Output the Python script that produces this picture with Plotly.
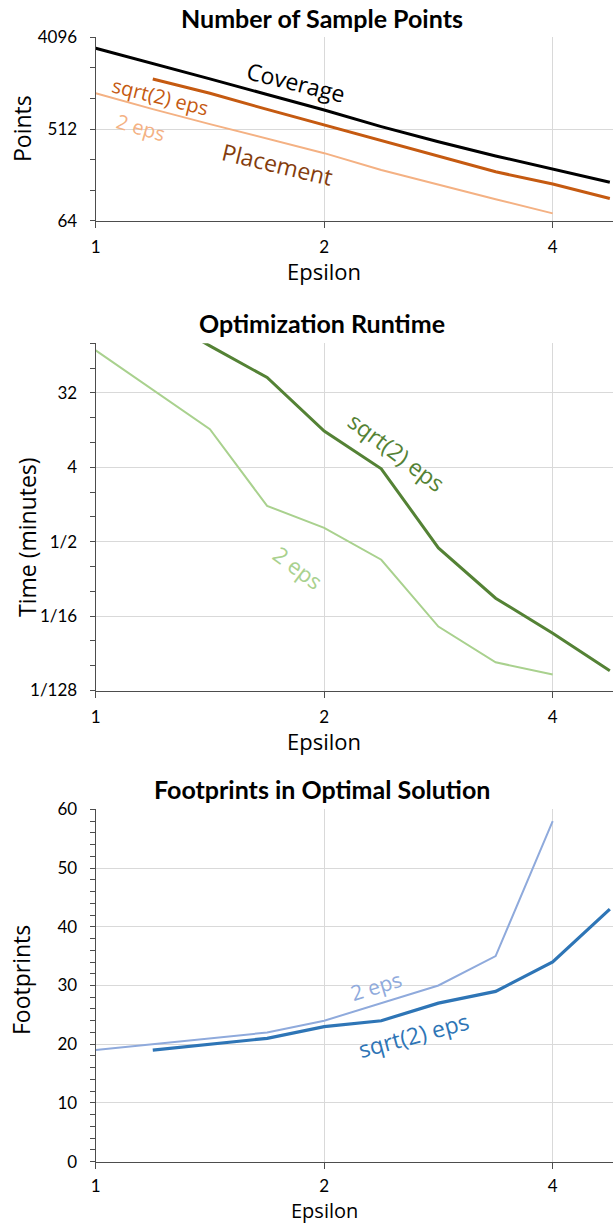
import math
import plotly.graph_objects as go

# ---------------- data ----------------
eps_all = [1, 1.189, 1.414, 1.682, 2, 2.378, 2.828, 3.364, 4, 4.757]

# Panel 1: number of sample points
coverage = [3191, 2272, 1596, 1120, 787, 541, 383, 278, 205, 153]
place_sqrt2_eps = eps_all[1:10]
place_sqrt2 = [1590, 1152, 798, 560, 399, 278, 194, 147, 106]
place_2_eps = eps_all[0:9]
place_2 = [1152, 803, 572, 410, 296, 202, 144, 104, 75.6]

# Panel 2: optimization runtime (minutes)
rt_sqrt2_eps = eps_all[1:10]
rt_sqrt2 = [300, 119, 49.2, 11.0, 3.84, 0.42, 0.103, 0.0387, 0.0136]
rt_2_eps = eps_all[0:9]
rt_2 = [105, 35, 11.6, 1.36, 0.737, 0.302, 0.0467, 0.0172, 0.0122]

# Panel 3: footprints in optimal solution
fp_2_eps = eps_all[0:9]
fp_2 = [19, 20, 21, 22, 24, 27, 30, 35, 58]
fp_sqrt2_eps = eps_all[1:10]
fp_sqrt2 = [19, 20, 21, 23, 24, 27, 29, 34, 43]

x_tickvals = [1, 2, 4]
x_ticktext = ["1", "2", "4"]
p1_tickvals = [64, 512, 4096]
p1_ticktext = ["64", "512", "4096"]
p1_minor = [128, 256, 1024, 2048]
p2_tickvals = [1/128, 1/16, 1/2, 4, 32]
p2_ticktext = ["1/128", "1/16", "1/2", "4", "32"]
p2_minor = [1/64, 1/32, 1/8, 1/4, 1, 2, 8, 16, 64, 128]

titles = ["Number of Sample Points", "Optimization Runtime", "Footprints in Optimal Solution"]
y_titles = ["Points", "Time (minutes)", "Footprints"]

# ---------------- styling ----------------
W, H = 613, 1224
BLACK = "#000000"
OR_DARK = "#C55A11"
OR_LIGHT = "#F4B183"
BROWN = "#843C0C"
GR_DARK = "#548235"
GR_LIGHT = "#A9D18E"
BL_DARK = "#2E75B6"
BL_LIGHT = "#8FAADC"
AXC = "#4D4D4D"
GRID = "#D9D9D9"
TICKFONT = dict(family="Lato, Carlito, Calibri, sans-serif", size=17, color="#000000")
LBLFONT = "Open Sans, sans-serif"


def py(px):
    return 1 - px / H


def px_x(px):
    return px / W


fig = go.Figure()

# panel 1
fig.add_trace(go.Scatter(x=eps_all, y=coverage, mode="lines", line=dict(color=BLACK, width=3),
                         xaxis="x", yaxis="y", showlegend=False))
fig.add_trace(go.Scatter(x=place_sqrt2_eps, y=place_sqrt2, mode="lines", line=dict(color=OR_DARK, width=3),
                         xaxis="x", yaxis="y", showlegend=False))
fig.add_trace(go.Scatter(x=place_2_eps, y=place_2, mode="lines", line=dict(color=OR_LIGHT, width=2),
                         xaxis="x", yaxis="y", showlegend=False))
# panel 2
fig.add_trace(go.Scatter(x=rt_sqrt2_eps, y=rt_sqrt2, mode="lines", line=dict(color=GR_DARK, width=3),
                         xaxis="x2", yaxis="y2", showlegend=False))
fig.add_trace(go.Scatter(x=rt_2_eps, y=rt_2, mode="lines", line=dict(color=GR_LIGHT, width=2),
                         xaxis="x2", yaxis="y2", showlegend=False))
# panel 3
fig.add_trace(go.Scatter(x=fp_2_eps, y=fp_2, mode="lines", line=dict(color=BL_LIGHT, width=2),
                         xaxis="x3", yaxis="y3", showlegend=False))
fig.add_trace(go.Scatter(x=fp_sqrt2_eps, y=fp_sqrt2, mode="lines", line=dict(color=BL_DARK, width=3.2),
                         xaxis="x3", yaxis="y3", showlegend=False))

x_dom = [95.7 / W, 1.0]
x_rng = [0, math.log10(2 ** ((W - 95.7) / 228.5))]

xcommon = dict(type="log", domain=x_dom, range=x_rng, tickmode="array", tickvals=x_tickvals,
               ticktext=x_ticktext, showgrid=True, gridcolor=GRID, gridwidth=1,
               showline=True, linecolor=AXC, linewidth=1.3, ticks="outside", ticklen=6,
               tickcolor=AXC, tickwidth=1.3, tickfont=TICKFONT, ticklabelstandoff=5,
               zeroline=False, fixedrange=True, automargin=False)
ycommon = dict(showgrid=True, gridcolor=GRID, gridwidth=1, showline=True, linecolor=AXC,
               linewidth=1.3, ticks="outside", ticklen=5, tickcolor=AXC, tickwidth=1.3,
               tickfont=TICKFONT, ticklabelstandoff=9, zeroline=False, fixedrange=True,
               automargin=False)

dom1 = [py(220.7), py(37.3)]
dom2 = [py(690.5), py(343.3)]
dom3 = [py(1161.7), py(809.3)]

fig.update_layout(
    width=W, height=H, margin=dict(l=0, r=0, t=0, b=0, pad=0, autoexpand=False),
    paper_bgcolor="white", plot_bgcolor="white", showlegend=False,
    xaxis=dict(xcommon, anchor="y"),
    xaxis2=dict(xcommon, anchor="y2"),
    xaxis3=dict(xcommon, anchor="y3", ticklabelstandoff=3),
    yaxis=dict(ycommon, type="log", domain=dom1, anchor="x",
               range=[math.log10(64), math.log10(4096)],
               tickmode="array", tickvals=p1_tickvals, ticktext=p1_ticktext,
               minor=dict(tickmode="array", tickvals=p1_minor, ticks="outside", ticklen=5,
                          tickcolor=AXC, tickwidth=1.3, showgrid=False)),
    yaxis2=dict(ycommon, type="log", domain=dom2, anchor="x2",
                range=[math.log10(1 / 128), math.log10(128)],
                tickmode="array", tickvals=p2_tickvals, ticktext=p2_ticktext,
                minor=dict(tickmode="array", tickvals=p2_minor, ticks="outside", ticklen=5,
                           tickcolor=AXC, tickwidth=1.3, showgrid=False)),
    yaxis3=dict(ycommon, type="linear", domain=dom3, anchor="x3", range=[0, 60],
                tickmode="linear", tick0=0, dtick=10,
                minor=dict(tickmode="linear", tick0=0, dtick=2, ticks="outside", ticklen=5,
                           tickcolor=AXC, tickwidth=1.3, showgrid=False)),
)

ann = []
# titles
for t, ypx in zip(titles, [18, 323, 789]):
    ann.append(dict(text="<b>%s</b>" % t, x=px_x(322), y=py(ypx), xref="paper", yref="paper",
                    showarrow=False, xanchor="center", yanchor="middle",
                    font=dict(family="Lato, Carlito, sans-serif", size=25, color="#000000")))
# axis titles
for ypx, sz in [(271, 22), (741, 22), (1210, 20)]:
    ann.append(dict(text="Epsilon", x=px_x(324), y=py(ypx), xref="paper", yref="paper",
                    showarrow=False, xanchor="center", yanchor="middle", borderpad=0,
                    font=dict(family=LBLFONT, size=sz, color="#000000")))
for t, (xp, ypx) in zip(y_titles, [(22, 128), (27, 537), (21, 980)]):
    ann.append(dict(text=t, x=px_x(xp), y=py(ypx), xref="paper", yref="paper", textangle=-90,
                    showarrow=False, xanchor="center", yanchor="middle",
                    font=dict(family=LBLFONT, size=23, color="#000000")))

# series labels
labels = [
    ("Coverage", 296, 82, 14, 23, BLACK),
    ("sqrt(2) eps", 160, 97, 14, 20, OR_DARK),
    ("2 eps", 141, 128, 16, 20, OR_LIGHT),
    ("Placement", 277, 164, 13.5, 23, BROWN),
    ("sqrt(2) eps", 397, 452, 37, 23, GR_DARK),
    ("2 eps", 298, 567, 37, 22, GR_LIGHT),
    ("2 eps", 376, 986, -17, 21, BL_LIGHT),
    ("sqrt(2) eps", 413, 1035, -15, 23, BL_DARK),
]
for txt, xp, ypx, ang, sz, col in labels:
    ann.append(dict(text=txt, x=px_x(xp), y=py(ypx), xref="paper", yref="paper",
                    textangle=ang, showarrow=False, xanchor="center", yanchor="middle",
                    font=dict(family=LBLFONT, size=sz, color=col)))

fig.update_layout(annotations=ann)
fig.write_html(
    "out.html",
    config={"displayModeBar": False, "responsive": False},
    post_script="document.body.style.margin='0';document.body.style.padding='0';"
                "document.body.style.overflow='hidden';",
)
